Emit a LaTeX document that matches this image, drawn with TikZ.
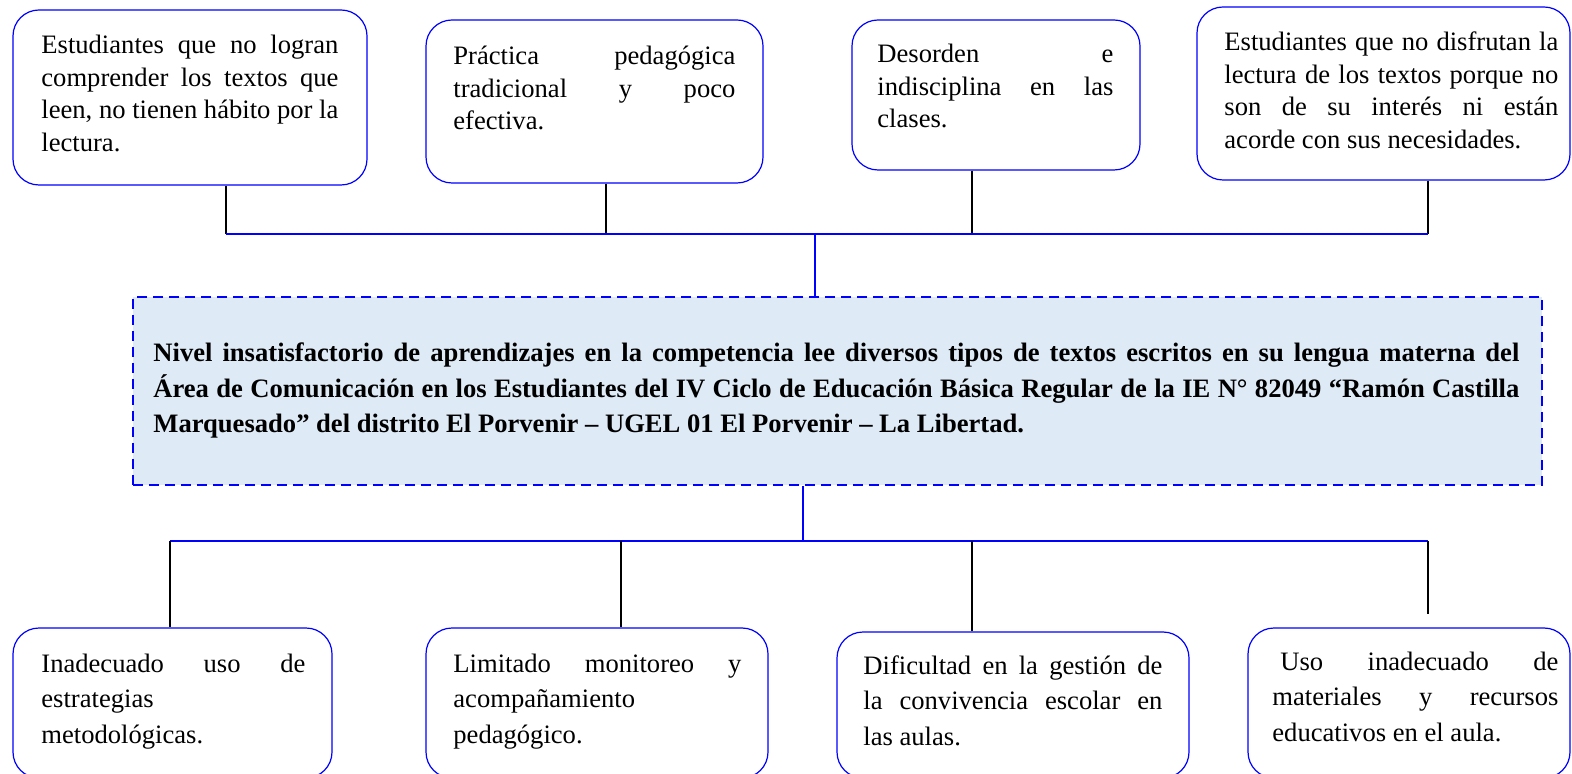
\documentclass[tikz,border=0pt]{standalone}
\usepackage{fontspec}
\setmainfont{Liberation Serif}
\usetikzlibrary{fit}
\definecolor{azulclaro}{RGB}{222,234,246}
\tolerance=10000 \hbadness=10000 \hyphenpenalty=10000 \exhyphenpenalty=10000

\tikzstyle{caja}=[draw=blue,line width=0.6pt,rounded corners=13pt,inner sep=0pt,fill=white]
\tikzstyle{problema}=[draw=blue,dash pattern=on 5pt off 3pt,line width=1pt,fill=azulclaro,inner sep=0pt]
\tikzstyle{txtefecto}=[inner sep=0pt,anchor=base west,align=justify,font=\fontsize{13.3pt}{16.2pt}\selectfont]
\tikzstyle{txtcausa}=[inner sep=0pt,anchor=base west,align=justify,font=\fontsize{13.3pt}{17.9pt}\selectfont]
\tikzstyle{txtproblema}=[inner sep=0pt,anchor=base west,align=justify,font=\bfseries\fontsize{13.3pt}{17.75pt}\selectfont]
\tikzstyle{barra}=[blue,line width=1pt]
\tikzstyle{rama}=[black,line width=0.7pt]

\begin{document}
\begin{tikzpicture}[x=0.5pt,y=-0.5pt]
  \path[use as bounding box] (0,0) rectangle (1572,774);
  \clip (0,0) rectangle (1572,774);

  % efectos
  \node[caja,fit={(13,10) (367,185)}] (e1) {};
  \node[caja,fit={(426,20) (763,183)}] (e2) {};
  \node[caja,fit={(852,20) (1140,170)}] (e3) {};
  \node[caja,fit={(1197,7) (1570,180)}] (e4) {};

  \node[txtefecto,text width=148.5pt] (te1) at (41,54) {Estudiantes que no logran\linebreak comprender los textos que\linebreak leen, no tienen hábito por la\linebreak lectura.};
  \node[txtefecto,text width=141pt] (te2) at (453,65) {Práctica pedagógica\linebreak tradicional y poco\linebreak efectiva.};
  \node[txtefecto,text width=118pt] (te3) at (877,63) {Desorden e\linebreak indisciplina en las\linebreak clases.};
  \node[txtefecto,text width=167pt] (te4) at (1224,51) {Estudiantes que no disfrutan la\linebreak lectura de los textos porque no\linebreak son de su interés ni están\linebreak acorde con sus necesidades.};

  % problema central
  \node[problema,fit={(133,297) (1542,485)}] (p) {};
  \node[txtproblema,text width=683pt] (tp) at (153,362) {Nivel insatisfactorio de aprendizajes en la competencia lee diversos tipos de textos escritos en su lengua materna del\linebreak Área de Comunicación en los Estudiantes del IV Ciclo de Educación Básica Regular de la IE N° 82049 “Ramón Castilla\linebreak Marquesado” del distrito El Porvenir – UGEL 01 El Porvenir – La Libertad.};

  % causas
  \node[caja,fit={(13,628) (332,778)}] (c1) {};
  \node[caja,fit={(426,628) (768,778)}] (c2) {};
  \node[caja,fit={(837,632) (1189,778)}] (c3) {};
  \node[caja,fit={(1248,628) (1570,778)}] (c4) {};

  \node[txtcausa,text width=132pt] (tc1) at (41,672) {Inadecuado uso de\linebreak estrategias\linebreak metodológicas.};
  \node[txtcausa,text width=144pt] (tc2) at (453,672) {Limitado monitoreo y\linebreak acompañamiento\linebreak pedagógico.};
  \node[txtcausa,text width=149.5pt] (tc3) at (863,674) {Dificultad en la gestión de\linebreak la convivencia escolar en\linebreak las aulas.};
  \node[txtcausa,text width=143pt] (tc4) at (1272,670) {\hspace*{4pt}Uso inadecuado de\linebreak materiales y recursos\linebreak educativos en el aula.};

  % conectores de arriba
  \coordinate (bs1) at (226,234);
  \coordinate (bs2) at (606,234);
  \coordinate (bs3) at (972,234);
  \coordinate (bs4) at (1428,234);
  \coordinate (bsp) at (815,234);
  \draw[rama] (e1.south -| bs1) -- (bs1);
  \draw[rama] (e2.south -| bs2) -- (bs2);
  \draw[rama] (e3.south -| bs3) -- (bs3);
  \draw[rama] (e4.south -| bs4) -- (bs4);
  \draw[barra] (bs1) -- (bs4);
  \draw[barra] (bsp) -- (bsp |- p.north);

  % conectores de abajo
  \coordinate (bi1) at (170,541);
  \coordinate (bi2) at (621,541);
  \coordinate (bi3) at (972,541);
  \coordinate (bi4) at (1428,541);
  \coordinate (bip) at (803,541);
  \draw[barra] (bip |- p.south) -- (bip);
  \draw[barra] (bi1) -- (bi4);
  \draw[rama] (bi1) -- (bi1 |- c1.north);
  \draw[rama] (bi2) -- (bi2 |- c2.north);
  \draw[rama] (bi3) -- (bi3 |- c3.north);
  \draw[rama,shorten >=6.5pt] (bi4) -- (bi4 |- c4.north);
\end{tikzpicture}
\end{document}
